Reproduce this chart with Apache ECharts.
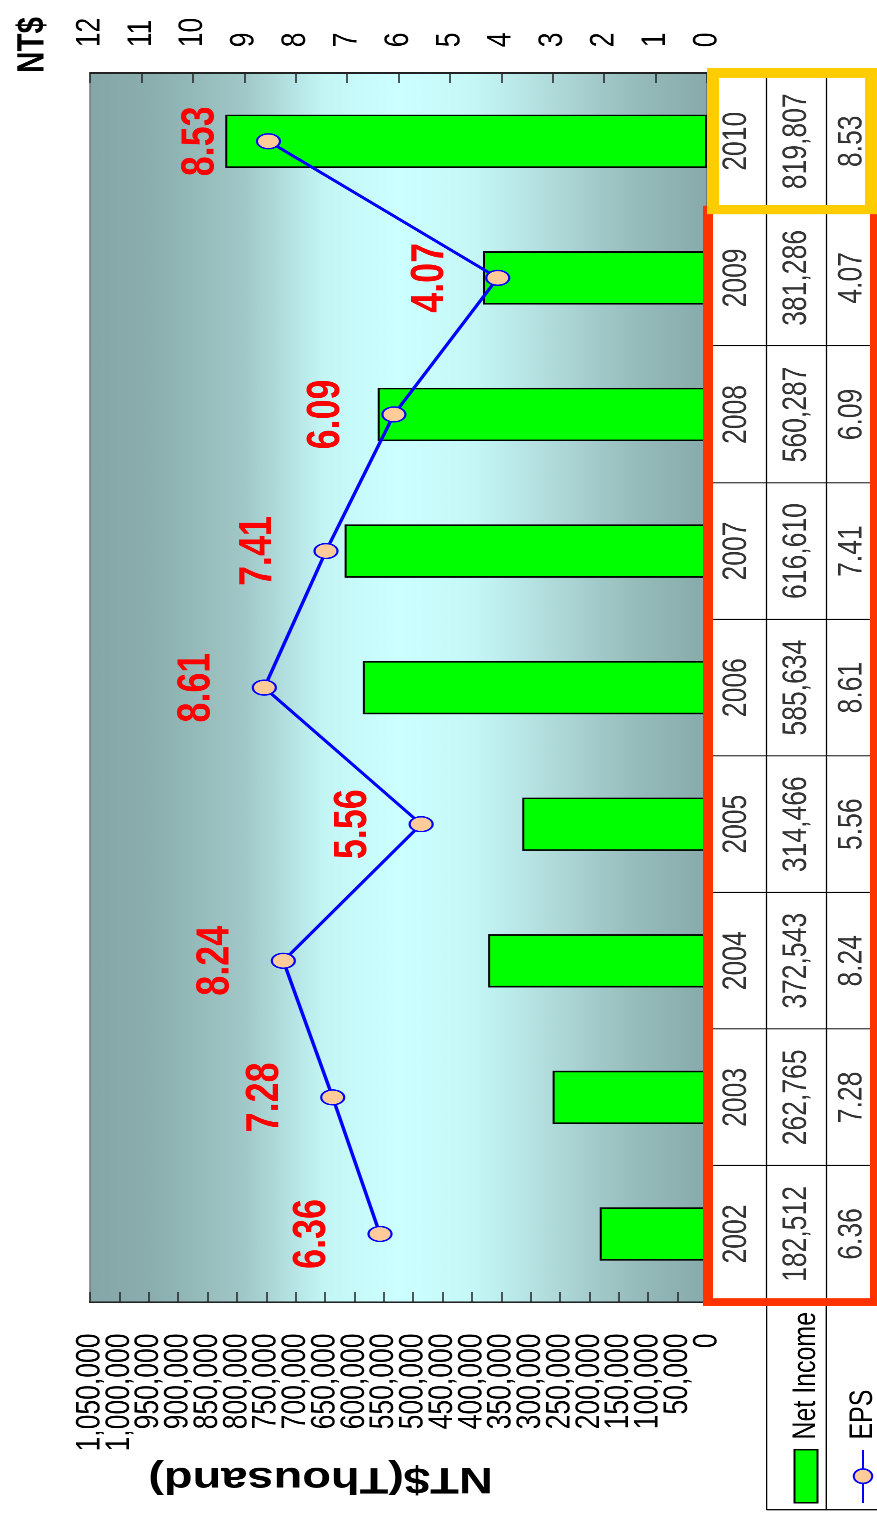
<!DOCTYPE html>
<html>
<head>
<meta charset="utf-8">
<script src="https://cdn.jsdelivr.net/npm/echarts@6/dist/echarts.min.js"></script>
<style>
  html, body { margin: 0; padding: 0; background: #fff; }
  #wrap { position: relative; width: 877px; height: 1523px; overflow: hidden; }
  /* chart is drawn landscape, squeezed a bit, then turned a quarter left */
  #chart { position: absolute; left: 0; top: 0; width: 1953px; height: 877px;
           transform-origin: 0 0; transform: translate(0px, 1523px) rotate(-90deg) scaleX(0.78); }
</style>
</head>
<body>
<div id="wrap"><div id="chart"></div></div>
<script>
var years = ['2002', '2003', '2004', '2005', '2006', '2007', '2008', '2009', '2010'];
var netIncome = [182512, 262765, 372543, 314466, 585634, 616610, 560287, 381286, 819807];
var eps = [6.36, 7.28, 8.24, 5.56, 8.61, 7.41, 6.09, 4.07, 8.53];
var incomeMax = 1050000, incomeStep = 50000;
var epsMax = 12, epsStep = 1;

// left axis labels are packed tight; split them over two axes so none get dropped
var incomeTicks = [], incomeEven = [], incomeOdd = [];
for (var v = 0; v <= incomeMax; v += incomeStep) {
    incomeTicks.push(v);
    ((v / incomeStep) % 2 === 0 ? incomeEven : incomeOdd).push(v);
}

var W = 1953, gl = 283, gr = 94;
var gw = W - gl - gr, cw = gw / 9;
var tTop = 707, tH = 170, rowMax = 2.85;
var rowH = tH / rowMax;
var font = "'Liberation Sans', Arial, sans-serif";

function fmt(v) { return v.toLocaleString('en-US'); }

var chart = echarts.init(document.getElementById('chart'), null, { devicePixelRatio: 2 });

function rowSeries(row, pick) {
    return {
        type: 'scatter',
        xAxisIndex: 1,
        yAxisIndex: 2,
        symbolSize: 0,
        silent: true,
        data: years.map(function (y, i) { return [i, row]; }),
        label: {
            show: true,
            position: 'inside',
            color: '#000',
            fontSize: 34,
            fontFamily: font,
            formatter: function (p) { return pick(p.dataIndex); }
        }
    };
}

function legendBox(name, icon, top) {
    return {
        data: [{ name: name, icon: icon }],
        left: 25,
        top: top,
        padding: 0,
        itemWidth: 68,
        itemHeight: 23,
        selectedMode: false,
        textStyle: { color: '#000', fontSize: 32, fontFamily: font, padding: [0, 0, 0, 8] }
    };
}

var incomeLabel = { color: '#000', fontSize: 34, margin: 40, formatter: fmt, showMinLabel: true, showMaxLabel: true };

var option = {
    animation: false,
    textStyle: { fontFamily: font },
    grid: [
        {
            left: gl, right: gr, top: 90, height: 617,
            show: true,
            borderColor: '#7a7a7a',
            borderWidth: 1.5,
            backgroundColor: new echarts.graphic.LinearGradient(0, 0, 0, 1, [
                { offset: 0, color: '#85a6a6' },
                { offset: 0.1, color: '#8aadad' },
                { offset: 0.25, color: '#a0c7c7' },
                { offset: 0.38, color: '#c3f5f5' },
                { offset: 0.5, color: '#ccffff' },
                { offset: 0.62, color: '#c5f7f7' },
                { offset: 0.75, color: '#b0dada' },
                { offset: 0.88, color: '#97bcbc' },
                { offset: 1, color: '#87a9a9' }
            ])
        },
        { left: gl, right: gr, top: tTop, height: tH }
    ],
    legend: [
        legendBox('Net Income', 'rect', 790),
        legendBox('EPS', undefined, 847)
    ],
    xAxis: [
        {
            type: 'category', gridIndex: 0, data: years,
            axisLine: { show: false }, axisTick: { show: false }, axisLabel: { show: false }
        },
        {
            type: 'category', gridIndex: 1, data: years,
            axisLine: { show: false }, axisTick: { show: false }, axisLabel: { show: false },
            splitLine: { show: true, lineStyle: { color: '#000', width: 1.3 } }
        }
    ],
    yAxis: [
        {
            type: 'value', gridIndex: 0, position: 'left',
            min: 0, max: incomeMax, interval: incomeStep,
            name: 'NT$(Thousand)',
            nameLocation: 'middle',
            nameRotate: 90,
            nameGap: 190,
            nameTextStyle: { color: '#000', fontSize: 47, fontWeight: 'bold', fontFamily: font, padding: [0, 0, 0, 156] },
            axisLine: { show: true, lineStyle: { color: '#222', width: 2 } },
            axisTick: { show: true, inside: true, length: 13, customValues: incomeTicks, lineStyle: { color: '#222', width: 1.5 } },
            axisLabel: Object.assign({ customValues: incomeEven }, incomeLabel),
            splitLine: { show: false }
        },
        {
            type: 'value', gridIndex: 0, position: 'right',
            min: 0, max: epsMax, interval: epsStep,
            name: 'NT$',
            nameLocation: 'end',
            nameGap: 38,
            nameTextStyle: { color: '#000', fontSize: 38, fontWeight: 'bold', fontFamily: font, align: 'left' },
            axisLine: { show: true, lineStyle: { color: '#222', width: 2 } },
            axisTick: { show: true, inside: true, length: 13, lineStyle: { color: '#222', width: 1.5 } },
            axisLabel: { color: '#000', fontSize: 34, margin: 33, showMinLabel: true, showMaxLabel: true },
            splitLine: { show: false }
        },
        {
            type: 'value', gridIndex: 1, inverse: true,
            min: 0, max: rowMax, interval: 1,
            axisLine: { show: false }, axisTick: { show: false }, axisLabel: { show: false },
            splitLine: { show: true, lineStyle: { color: '#000', width: 1.3 } }
        },
        {
            type: 'value', gridIndex: 0, position: 'left',
            min: 0, max: incomeMax, interval: incomeStep,
            axisLine: { show: false }, axisTick: { show: false },
            axisLabel: Object.assign({ customValues: incomeOdd }, incomeLabel),
            splitLine: { show: false }
        }
    ],
    series: [
        {
            name: 'Net Income',
            type: 'bar',
            xAxisIndex: 0,
            yAxisIndex: 0,
            barWidth: '39%',
            data: netIncome,
            itemStyle: { color: '#00ff00', borderColor: '#000', borderWidth: 2 }
        },
        {
            name: 'EPS',
            type: 'line',
            xAxisIndex: 0,
            yAxisIndex: 1,
            data: eps,
            symbol: 'circle',
            symbolSize: [19, 23],
            lineStyle: { color: '#0000ff', width: 3.5 },
            itemStyle: { color: '#ffcc99', borderColor: '#0000ff', borderWidth: 2 },
            label: {
                show: true,
                position: 'top',
                distance: 32,
                color: '#ff0000',
                fontSize: 46,
                fontWeight: 'bold',
                fontFamily: font,
                formatter: function (p) { return eps[p.dataIndex].toFixed(2); }
            },
            z: 5
        },
        rowSeries(0.5, function (i) { return years[i]; }),
        rowSeries(1.5, function (i) { return fmt(netIncome[i]); }),
        rowSeries(2.43, function (i) { return eps[i].toFixed(2); })
    ],
    graphic: [
        // legend cell borders
        { type: 'line', z: 90, shape: { x1: 17, y1: tTop + rowH, x2: gl, y2: tTop + rowH }, style: { stroke: '#000', lineWidth: 1.3 } },
        { type: 'line', z: 90, shape: { x1: 17, y1: tTop + 2 * rowH, x2: gl, y2: tTop + 2 * rowH }, style: { stroke: '#000', lineWidth: 1.3 } },
        { type: 'line', z: 90, shape: { x1: 17, y1: tTop + rowH, x2: 17, y2: tTop + tH }, style: { stroke: '#000', lineWidth: 1.6 } },
        // highlight frames around the table
        { type: 'rect', z: 100, shape: { x: gl, y: 708, width: 8 * cw, height: 167 }, style: { fill: 'none', stroke: '#ff3300', lineWidth: 10 } },
        { type: 'rect', z: 101, shape: { x: gl + 8 * cw, y: 713, width: cw, height: 158 }, style: { fill: 'none', stroke: '#ffcc00', lineWidth: 12 } }
    ]
};

chart.setOption(option);
</script>
</body>
</html>
